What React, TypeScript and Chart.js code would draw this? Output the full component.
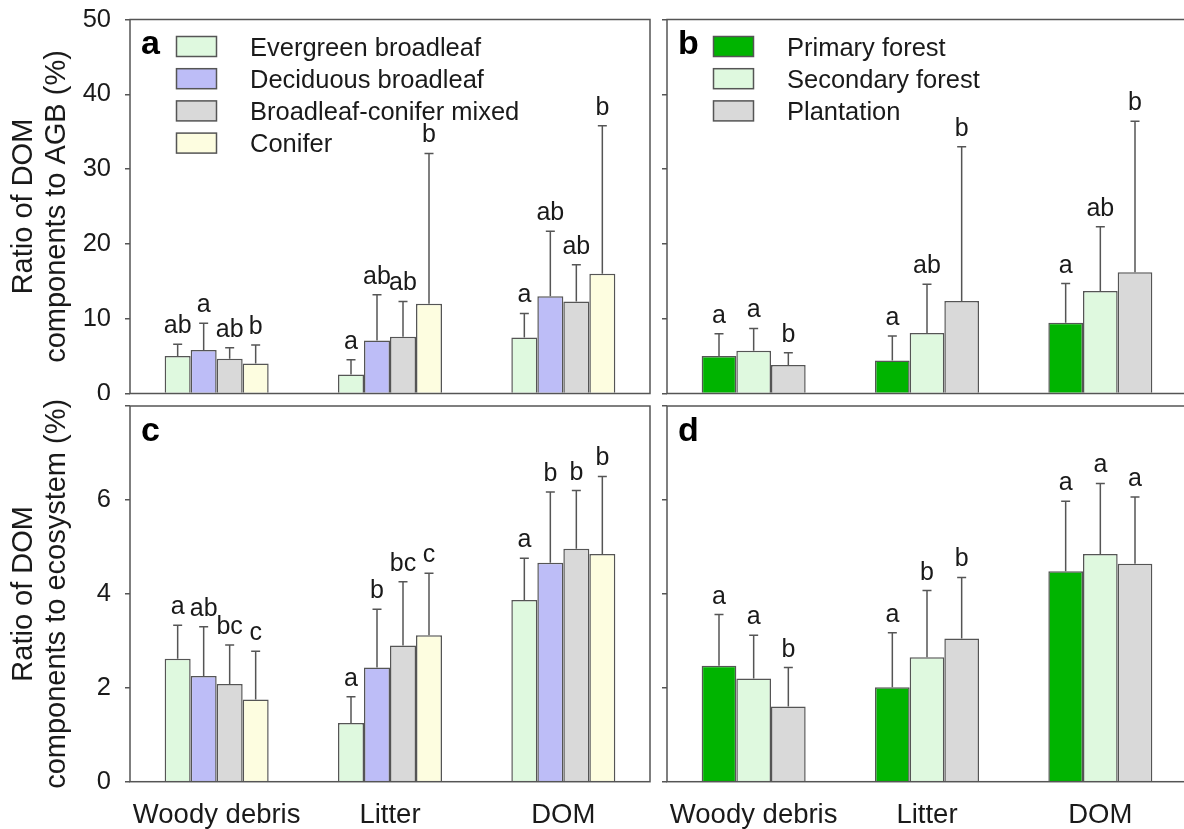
import React, { useEffect, useRef } from 'react';
import { Chart, registerables } from 'chart.js';

Chart.register(...registerables);

const FONT = '"Liberation Sans", Arial, Helvetica, sans-serif';
Chart.defaults.font.family = FONT;

// ---------------- data ----------------
const categories = ['Woody debris', 'Litter', 'DOM'];
const forestTypes = ['Evergreen broadleaf', 'Deciduous broadleaf', 'Broadleaf-conifer mixed', 'Conifer'];
const forestOrigins = ['Primary forest', 'Secondary forest', 'Plantation'];

// Panel a: ratio to AGB (%) by forest type — mean and upper end of error bar
const evergreenAgb = [5.0, 2.55, 7.5];
const evergreenAgbUpper = [6.6, 4.5, 10.7];
const deciduousAgb = [5.8, 7.1, 13.0];
const deciduousAgbUpper = [9.4, 13.2, 21.7];
const mixedAgb = [4.65, 7.6, 12.3];
const mixedAgbUpper = [6.1, 12.3, 17.2];
const coniferAgb = [4.0, 12.0, 16.0];
const coniferAgbUpper = [6.5, 32.1, 35.8];
const evergreenAgbLetters = ['ab', 'a', 'a'];
const deciduousAgbLetters = ['a', 'ab', 'ab'];
const mixedAgbLetters = ['ab', 'ab', 'ab'];
const coniferAgbLetters = ['b', 'b', 'b'];

// Panel b: ratio to AGB (%) by forest origin
const primaryAgb = [5.0, 4.4, 9.45];
const primaryAgbUpper = [8.0, 7.7, 14.7];
const secondaryAgb = [5.7, 8.1, 13.7];
const secondaryAgbUpper = [8.7, 14.6, 22.3];
const plantationAgb = [3.8, 12.35, 16.2];
const plantationAgbUpper = [5.45, 33.0, 36.4];
const primaryAgbLetters = ['a', 'a', 'a'];
const secondaryAgbLetters = ['a', 'ab', 'ab'];
const plantationAgbLetters = ['b', 'b', 'b'];

// Panel c: ratio to ecosystem (%) by forest type
const evergreenEco = [2.62, 1.25, 3.87];
const evergreenEcoUpper = [3.33, 1.81, 4.76];
const deciduousEco = [2.25, 2.43, 4.66];
const deciduousEcoUpper = [3.30, 3.67, 6.17];
const mixedEco = [2.08, 2.90, 4.96];
const mixedEcoUpper = [2.91, 4.26, 6.20];
const coniferEco = [1.75, 3.12, 4.85];
const coniferEcoUpper = [2.78, 4.44, 6.50];
const evergreenEcoLetters = ['a', 'a', 'a'];
const deciduousEcoLetters = ['ab', 'b', 'b'];
const mixedEcoLetters = ['bc', 'bc', 'b'];
const coniferEcoLetters = ['c', 'c', 'b'];

// Panel d: ratio to ecosystem (%) by forest origin
const primaryEco = [2.47, 2.01, 4.48];
const primaryEcoUpper = [3.56, 3.17, 5.97];
const secondaryEco = [2.20, 2.65, 4.85];
const secondaryEcoUpper = [3.12, 4.07, 6.35];
const plantationEco = [1.60, 3.05, 4.64];
const plantationEcoUpper = [2.43, 4.35, 6.06];
const primaryEcoLetters = ['a', 'a', 'a'];
const secondaryEcoLetters = ['a', 'b', 'a'];
const plantationEcoLetters = ['b', 'b', 'a'];

// tick settings
const agbMax = 50;
const agbStep = 10;
const ecoMax = 8;
const ecoStep = 2;

// ---------------- styles ----------------
const typeColors = ['#dff9df', '#bdbdf7', '#d9d9d9', '#fdfde0'];
const originColors = ['#00b400', '#dff9df', '#d9d9d9'];
const LINE = '#555555';
const TEXT = '#1a1a1a';

const errorBarPlugin = {
  id: 'errorBars',
  afterDatasetsDraw(chart: any) {
    const ctx = chart.ctx;
    const yScale = chart.scales.y;
    chart.data.datasets.forEach((ds: any, i: number) => {
      const meta = chart.getDatasetMeta(i);
      meta.data.forEach((bar: any, j: number) => {
        const x = bar.x;
        const yTop = bar.y;
        const yErr = yScale.getPixelForValue(ds.upper[j]);
        ctx.save();
        ctx.strokeStyle = LINE;
        ctx.lineWidth = 1.5;
        ctx.beginPath();
        ctx.moveTo(x, yTop);
        ctx.lineTo(x, yErr);
        ctx.moveTo(x - 4.5, yErr);
        ctx.lineTo(x + 4.5, yErr);
        ctx.stroke();
        ctx.fillStyle = TEXT;
        ctx.font = '25px ' + FONT;
        ctx.textAlign = 'center';
        ctx.textBaseline = 'alphabetic';
        ctx.fillText(ds.letters[j], x, yErr - 11);
        ctx.restore();
      });
    });
  },
};

const decoPlugin = {
  id: 'panelDeco',
  afterDraw(chart: any, _args: any, opts: any) {
    const { ctx, chartArea: ca } = chart;
    ctx.save();
    ctx.strokeStyle = LINE;
    ctx.lineWidth = 1.5;
    ctx.strokeRect(ca.left, ca.top, ca.right - ca.left, ca.bottom - ca.top);
    ctx.fillStyle = '#000';
    ctx.font = 'bold 34px ' + FONT;
    ctx.textAlign = 'left';
    ctx.textBaseline = 'alphabetic';
    ctx.fillText(opts.letter, ca.left + 11, ca.top + 34.5);
    if (opts.legend) {
      chart.data.datasets.forEach((ds: any, i: number) => {
        const bx = ca.left + 46.5;
        const by = ca.top + 17 + i * 32.2;
        ctx.fillStyle = ds.backgroundColor;
        ctx.fillRect(bx, by, 40, 20);
        ctx.strokeStyle = LINE;
        ctx.lineWidth = 1.5;
        ctx.strokeRect(bx, by, 40, 20);
        ctx.fillStyle = TEXT;
        ctx.font = '25.5px ' + FONT;
        ctx.textBaseline = 'alphabetic';
        ctx.fillText(ds.label, ca.left + 120, by + 19.3);
      });
    }
    ctx.restore();
  },
};

type Panel = {
  letter: string;
  names: string[];
  colors: string[];
  values: number[][];
  uppers: number[][];
  letters: string[][];
  max: number;
  step: number;
  hideTop: boolean;
  title: string[] | null;
  showYLabels: boolean;
  showX: boolean;
  yWidth: number;
  xHeight: number;
  pad: { top: number; right: number; bottom: number };
};

function makeConfig(p: Panel): any {
  const datasets = p.names.map((name, i) => ({
    label: name,
    data: p.values[i],
    upper: p.uppers[i],
    letters: p.letters[i],
    backgroundColor: p.colors[i],
    borderColor: LINE,
    borderWidth: 1.5,
    categoryPercentage: 0.6,
    barPercentage: 1.0,
  }));
  return {
    type: 'bar',
    data: { labels: categories, datasets },
    options: {
      animation: false,
      responsive: false,
      maintainAspectRatio: false,
      layout: { padding: { top: p.pad.top, right: p.pad.right, bottom: p.pad.bottom, left: 0 } },
      plugins: {
        legend: { display: false },
        tooltip: { enabled: false },
        panelDeco: { letter: p.letter, legend: p.letter === 'a' || p.letter === 'b' },
      },
      scales: {
        x: {
          display: p.showX,
          offset: true,
          grid: { display: false },
          border: { display: false },
          ticks: {
            font: { size: 27.5, family: FONT },
            color: TEXT,
            padding: 9,
            maxRotation: 0,
            autoSkip: false,
          },
          afterFit: (s: any) => {
            s.height = p.xHeight;
            s.paddingLeft = 0;
            s.paddingRight = 0;
          },
        },
        y: {
          min: 0,
          max: p.max,
          ticks: {
            stepSize: p.step,
            display: p.showYLabels,
            font: { size: 25.5, family: FONT },
            color: TEXT,
            padding: 14,
            callback: (v: any) => (p.hideTop && v === p.max ? '' : String(v)),
          },
          grid: {
            drawOnChartArea: false,
            drawTicks: true,
            tickLength: 5,
            color: LINE,
            lineWidth: 1.5,
          },
          border: { display: false },
          title: {
            display: !!p.title,
            text: p.title || '',
            font: { size: 29, family: FONT, lineHeight: 1.15 },
            color: TEXT,
            padding: { top: 7, bottom: 0 },
          },
          afterFit: (s: any) => {
            s.width = p.yWidth;
            s.paddingTop = 0;
            s.paddingBottom = 0;
          },
        },
      },
    },
    plugins: [errorBarPlugin, decoPlugin],
  };
}

const panelA: Panel = {
  letter: 'a',
  names: forestTypes,
  colors: typeColors,
  values: [evergreenAgb, deciduousAgb, mixedAgb, coniferAgb],
  uppers: [evergreenAgbUpper, deciduousAgbUpper, mixedAgbUpper, coniferAgbUpper],
  letters: [evergreenAgbLetters, deciduousAgbLetters, mixedAgbLetters, coniferAgbLetters],
  max: agbMax,
  step: agbStep,
  hideTop: false,
  title: ['Ratio of DOM', 'components to AGB (%)'],
  showYLabels: true,
  showX: false,
  yWidth: 130,
  xHeight: 0,
  pad: { top: 19.5, right: 10, bottom: 6.5 },
};

const panelB: Panel = {
  letter: 'b',
  names: forestOrigins,
  colors: originColors,
  values: [primaryAgb, secondaryAgb, plantationAgb],
  uppers: [primaryAgbUpper, secondaryAgbUpper, plantationAgbUpper],
  letters: [primaryAgbLetters, secondaryAgbLetters, plantationAgbLetters],
  max: agbMax,
  step: agbStep,
  hideTop: false,
  title: null,
  showYLabels: false,
  showX: false,
  yWidth: 12,
  xHeight: 0,
  pad: { top: 19.5, right: 13, bottom: 6.5 },
};

const panelC: Panel = {
  letter: 'c',
  names: forestTypes,
  colors: typeColors,
  values: [evergreenEco, deciduousEco, mixedEco, coniferEco],
  uppers: [evergreenEcoUpper, deciduousEcoUpper, mixedEcoUpper, coniferEcoUpper],
  letters: [evergreenEcoLetters, deciduousEcoLetters, mixedEcoLetters, coniferEcoLetters],
  max: ecoMax,
  step: ecoStep,
  hideTop: true,
  title: ['Ratio of DOM', 'components to ecosystem (%)'],
  showYLabels: true,
  showX: true,
  yWidth: 130,
  xHeight: 47.3,
  pad: { top: 6, right: 10, bottom: 0 },
};

const panelD: Panel = {
  letter: 'd',
  names: forestOrigins,
  colors: originColors,
  values: [primaryEco, secondaryEco, plantationEco],
  uppers: [primaryEcoUpper, secondaryEcoUpper, plantationEcoUpper],
  letters: [primaryEcoLetters, secondaryEcoLetters, plantationEcoLetters],
  max: ecoMax,
  step: ecoStep,
  hideTop: true,
  title: null,
  showYLabels: false,
  showX: true,
  yWidth: 12,
  xHeight: 47.3,
  pad: { top: 6, right: 13, bottom: 0 },
};

const layout = [
  { panel: panelA, left: 0, top: 0, width: 660, height: 400 },
  { panel: panelB, left: 655, top: 0, width: 545, height: 400 },
  { panel: panelC, left: 0, top: 400, width: 660, height: 429 },
  { panel: panelD, left: 655, top: 400, width: 545, height: 429 },
];

function PanelCanvas(props: { panel: Panel; left: number; top: number; width: number; height: number }) {
  const ref = useRef<HTMLCanvasElement | null>(null);
  useEffect(() => {
    if (!ref.current) return;
    const chart = new Chart(ref.current, makeConfig(props.panel));
    return () => chart.destroy();
  }, []);
  return (
    <canvas
      ref={ref}
      width={props.width}
      height={props.height}
      style={{ position: 'absolute', left: props.left, top: props.top, width: props.width, height: props.height }}
    />
  );
}

export default function App() {
  return (
    <div
      style={{
        position: 'absolute',
        left: 0,
        top: 0,
        width: 1184,
        height: 829,
        overflow: 'hidden',
        background: '#ffffff',
      }}
    >
      {layout.map((l) => (
        <PanelCanvas key={l.panel.letter} panel={l.panel} left={l.left} top={l.top} width={l.width} height={l.height} />
      ))}
    </div>
  );
}
